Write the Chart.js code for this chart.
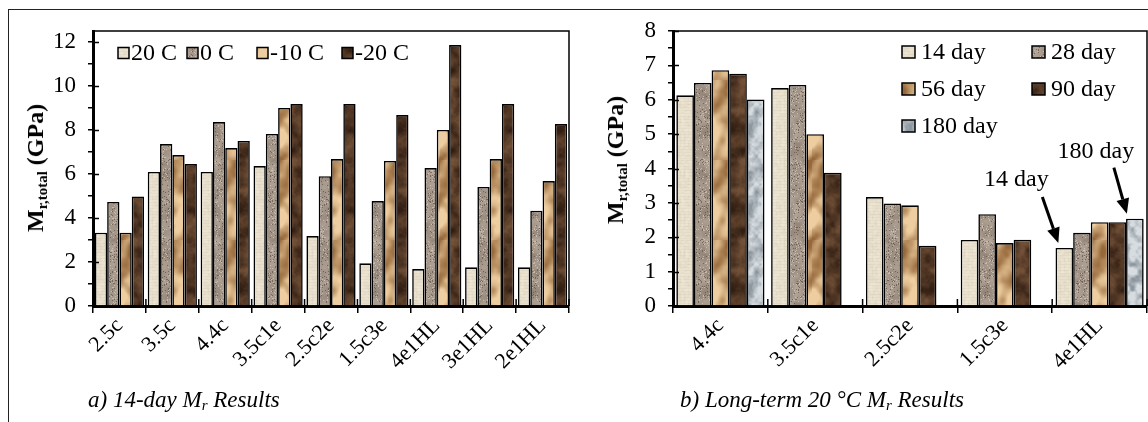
<!DOCTYPE html>
<html>
<head>
<meta charset="utf-8">
<script src="https://cdn.jsdelivr.net/npm/chart.js@4"></script>
<style>
  html, body { margin: 0; padding: 0; background: #fff; }
  #page { position: relative; width: 1148px; height: 422px; overflow: hidden; font-family: "Liberation Serif", "Times New Roman", serif; color: #000; }
  #left-chart { position: absolute; left: 0; top: 0; }
  #right-chart { position: absolute; left: 572px; top: 0; }
  .frame-top { position: absolute; left: 8px; top: 9px; width: 1140px; height: 0; border-top: 1.5px solid #222; }
  .frame-left { position: absolute; left: 8px; top: 9px; width: 0; height: 413px; border-left: 1.5px solid #222; }
  .caption { position: absolute; font-style: italic; font-size: 23px; line-height: 1; white-space: nowrap; }
  .caption sub { font-size: 15px; vertical-align: -3px; line-height: 0; }
  .axis-title { position: absolute; font-weight: bold; font-size: 24px; line-height: 1; white-space: nowrap;
                transform: translate(-50%, -50%) rotate(-90deg); }
  .axis-title sub { font-size: 15px; vertical-align: -4px; line-height: 0; }
</style>
</head>
<body>
<div id="page">
  <div class="frame-top"></div>
  <div class="frame-left"></div>
  <canvas id="left-chart" width="572" height="422"></canvas>
  <canvas id="right-chart" width="576" height="422"></canvas>
  <div class="axis-title" style="left:35px; top:168px;">M<sub>r,total</sub> (GPa)</div>
  <div class="axis-title" style="left:615px; top:160px;">M<sub>r,total</sub> (GPa)</div>
  <div class="caption" style="left:88px; top:388px;">a) 14-day M<sub>r</sub> Results</div>
  <div class="caption" style="left:680px; top:388px;">b) Long-term 20 °C M<sub>r</sub> Results</div>
</div>
<script>
// ---- data ----
const leftCategories = ["2.5c", "3.5c", "4.4c", "3.5c1e", "2.5c2e", "1.5c3e", "4e1HL", "3e1HL", "2e1HL"];
const leftSeries = ["20 C", "0 C", "-10 C", "-20 C"];
const mr20C = [3.33, 6.09, 6.09, 6.36, 3.18, 1.94, 1.68, 1.76, 1.76];
const mr0C = [4.73, 7.36, 8.36, 7.82, 5.90, 4.77, 6.27, 5.41, 4.33];
const mrMinus10C = [3.33, 6.86, 7.18, 9.00, 6.68, 6.59, 8.00, 6.68, 5.68];
const mrMinus20C = [4.98, 6.45, 7.50, 9.18, 9.18, 8.68, 11.86, 9.18, 8.27];

const rightCategories = ["4.4c", "3.5c1e", "2.5c2e", "1.5c3e", "4e1HL"];
const rightSeries = ["14 day", "28 day", "56 day", "90 day", "180 day"];
const day14 = [6.13, 6.34, 3.17, 1.92, 1.69];
const day28 = [6.49, 6.43, 2.98, 2.67, 2.13];
const day56 = [6.86, 5.00, 2.93, 1.83, 2.44];
const day90 = [6.76, 3.88, 1.75, 1.93, 2.44];
const day180 = [6.01, null, null, null, 2.54];

// ---- bar textures ----
function hash(i, j, seed) {
  const s = Math.sin(i * 12.9898 + j * 78.233 + seed * 37.719) * 43758.5453;
  return s - Math.floor(s);
}
const mod = (a, n) => ((a % n) + n) % n;
function vnoise(x, y, cell, w, h, seed) {
  const px = w / cell, py = h / cell;
  const gx = x / cell, gy = y / cell;
  const i = Math.floor(gx), j = Math.floor(gy);
  let fx = gx - i, fy = gy - j;
  fx = fx * fx * (3 - 2 * fx);
  fy = fy * fy * (3 - 2 * fy);
  const a = hash(mod(i, px), mod(j, py), seed);
  const b = hash(mod(i + 1, px), mod(j, py), seed);
  const c = hash(mod(i, px), mod(j + 1, py), seed);
  const d = hash(mod(i + 1, px), mod(j + 1, py), seed);
  return (a * (1 - fx) + b * fx) * (1 - fy) + (c * (1 - fx) + d * fx) * fy;
}
function fbm(x, y, cells, w, h, seed) {
  let sum = 0, amp = 1, tot = 0;
  cells.forEach((cell, k) => {
    sum += amp * vnoise(x, y, cell, w, h, seed + k);
    tot += amp;
    amp *= 0.5;
  });
  return sum / tot;
}
const mix = (a, b, t) => a.map((v, k) => v + (b[k] - v) * t);
const clamp01 = (t) => Math.max(0, Math.min(1, t));

const textures = {
  linen(x, y, w, h) {
    const n = vnoise(x, y, 2, w, h, 1) - 0.5;
    let d = n * 12;
    if (y % 3 === 0) d -= 6;
    if (x % 4 === 0) d -= 3;
    return [233 + d, 225 + d, 206 + d];
  },
  granite(x, y, w, h) {
    const n = fbm(x, y, [8, 4, 2], w, h, 3) - 0.5;
    let c = [165 + n * 55, 150 + n * 55, 138 + n * 55];
    const s = hash(x, y, 9);
    if (s > 0.92) c = mix(c, [90, 76, 66], 0.65);
    else if (s < 0.08) c = mix(c, [220, 212, 202], 0.6);
    return c;
  },
  sand(x, y, w, h) {
    let t = (fbm(x, y, [20, 10, 5], w, h, 5) - 0.5) * 1.9 + 0.55;
    t += 0.22 * Math.sin((x * 2 + y) / 7);
    return mix([150, 104, 58], [238, 206, 160], clamp01(t));
  },
  wood(x, y, w, h) {
    const t = fbm(x, y, [10, 5, 2], w, h, 7);
    return mix([50, 30, 18], [118, 84, 58], clamp01((t - 0.5) * 1.4 + 0.45));
  },
  marble(x, y, w, h) {
    const t = fbm(x, y, [8, 4, 2], w, h, 11);
    const k = clamp01((t - 0.25) / 0.4);
    return mix([140, 150, 158], [214, 220, 224], k);
  }
};

function makeTexture(kind) {
  const w = 40, h = 80;
  const c = document.createElement("canvas");
  c.width = w;
  c.height = h;
  const g = c.getContext("2d");
  const img = g.createImageData(w, h);
  for (let y = 0; y < h; y++) {
    for (let x = 0; x < w; x++) {
      const col = textures[kind](x, y, w, h);
      const p = (y * w + x) * 4;
      img.data[p] = col[0];
      img.data[p + 1] = col[1];
      img.data[p + 2] = col[2];
      img.data[p + 3] = 255;
    }
  }
  g.putImageData(img, 0, 0);
  return g.createPattern(c, "repeat");
}

const fills = {
  linen: makeTexture("linen"),
  granite: makeTexture("granite"),
  sand: makeTexture("sand"),
  wood: makeTexture("wood"),
  marble: makeTexture("marble")
};

// ---- plugins ----
// plot box (top/right), crossing tick marks
const plotFrame = {
  id: "plotFrame",
  afterDraw(chart) {
    const { ctx, chartArea: a, scales } = chart;
    ctx.save();
    ctx.strokeStyle = "#000";
    ctx.lineWidth = 1.5;
    ctx.beginPath();
    ctx.moveTo(a.left, a.top);
    ctx.lineTo(a.right, a.top);
    ctx.lineTo(a.right, a.bottom);
    ctx.stroke();

    // inward part of the major y ticks
    const y = scales.y;
    const major = chart.options.plugins.plotFrame.majorEvery;
    y.ticks.forEach((t) => {
      if (Math.abs(t.value / major - Math.round(t.value / major)) > 1e-6) return;
      const py = Math.round(y.getPixelForValue(t.value)) + 0.5;
      ctx.beginPath();
      ctx.moveTo(a.left, py);
      ctx.lineTo(a.left + 6, py);
      ctx.stroke();
    });

    // inward part of the category ticks
    const n = chart.data.labels.length;
    for (let i = 1; i <= n; i++) {
      const px = a.left + (i * (a.right - a.left)) / n;
      ctx.beginPath();
      ctx.moveTo(px, a.bottom - 7);
      ctx.lineTo(px, a.bottom);
      ctx.stroke();
    }
    ctx.restore();
  }
};

// legend drawn inside the plot area
const innerLegend = {
  id: "innerLegend",
  afterDraw(chart, args, opts) {
    const { ctx, chartArea: a } = chart;
    ctx.save();
    ctx.font = opts.font;
    ctx.textBaseline = "middle";
    chart.data.datasets.forEach((ds, i) => {
      const [ox, oy] = opts.positions[i];
      const x = a.left + ox, y = a.top + oy;
      const [bw, bh] = opts.box;
      ctx.fillStyle = ds.backgroundColor;
      ctx.fillRect(x, y - bh / 2, bw, bh);
      ctx.strokeStyle = "#000";
      ctx.lineWidth = 1.5;
      ctx.strokeRect(x, y - bh / 2, bw, bh);
      ctx.fillStyle = "#000";
      ctx.fillText(ds.label, x + bw + opts.gap, y + 1);
    });
    ctx.restore();
  }
};

// text + arrow pointing at a bar
const barCallouts = {
  id: "barCallouts",
  afterDraw(chart, args, opts) {
    const { ctx } = chart;
    ctx.save();
    ctx.font = opts.font;
    ctx.textAlign = "center";
    ctx.textBaseline = "middle";
    ctx.fillStyle = "#000";
    ctx.strokeStyle = "#000";
    opts.items.forEach((it) => {
      const bar = chart.getDatasetMeta(it.dataset).data[it.index];
      const bx = bar.x, by = bar.y;
      ctx.fillText(it.text, bx + it.label[0], by + it.label[1]);
      const sx = bx + it.from[0], sy = by + it.from[1];
      const tx = bx + it.tip[0], ty = by + it.tip[1];
      const ang = Math.atan2(ty - sy, tx - sx);
      const head = 15, half = 6.5;
      const hx = tx - head * Math.cos(ang), hy = ty - head * Math.sin(ang);
      ctx.lineWidth = 3;
      ctx.beginPath();
      ctx.moveTo(sx, sy);
      ctx.lineTo(hx, hy);
      ctx.stroke();
      ctx.beginPath();
      ctx.moveTo(tx, ty);
      ctx.lineTo(hx + half * Math.sin(ang), hy - half * Math.cos(ang));
      ctx.lineTo(hx - half * Math.sin(ang), hy + half * Math.cos(ang));
      ctx.closePath();
      ctx.fill();
    });
    ctx.restore();
  }
};

// ---- charts ----
const FONT = "Liberation Serif";
Chart.defaults.font.family = FONT;
Chart.defaults.color = "#000";

function barDatasets(names, values, patterns) {
  return names.map((label, i) => ({
    label,
    data: values[i],
    backgroundColor: patterns[i],
    borderColor: "#000",
    borderWidth: 1.6,
    barPercentage: 1,
    categoryPercentage: 0.93
  }));
}

// y ticks every `step` up to `tickMax`, labels only on multiples of `major`
function baseScales(yMax, tickMax, step, major, yWidth) {
  return {
    x: {
      grid: { drawOnChartArea: false, tickLength: 7, color: "#000", lineWidth: 1.5 },
      border: { color: "#000", width: 3 },
      ticks: { font: { size: 22 }, minRotation: 45, maxRotation: 45, padding: 0, autoSkip: false },
      afterFit: (s) => { s.height = 116; }
    },
    y: {
      min: 0,
      max: yMax,
      ticks: {
        font: { size: 23 },
        padding: 12,
        autoSkip: false,
        callback: (v) => (Math.abs(v / major - Math.round(v / major)) < 1e-6 ? v : "")
      },
      afterBuildTicks: (s) => {
        const ticks = [];
        for (let k = 0; k * step <= tickMax + 1e-9; k++) ticks.push({ value: +(k * step).toFixed(3) });
        s.ticks = ticks;
      },
      grid: { drawOnChartArea: false, tickLength: 5, color: "#000", lineWidth: 1.5 },
      border: { color: "#000", width: 3 },
      afterFit: (s) => { s.width = yWidth; }
    }
  };
}

new Chart(document.getElementById("left-chart"), {
  type: "bar",
  data: {
    labels: leftCategories,
    datasets: barDatasets(leftSeries, [mr20C, mr0C, mrMinus10C, mrMinus20C],
      [fills.linen, fills.granite, fills.sand, fills.wood])
  },
  options: {
    responsive: false,
    animation: false,
    layout: { padding: { top: 31, right: 3, left: 0, bottom: 0 } },
    scales: baseScales(12.5, 12, 1, 2, 93),
    plugins: {
      legend: { display: false },
      tooltip: { enabled: false },
      plotFrame: { majorEvery: 2 },
      innerLegend: {
        font: "24px " + FONT,
        box: [11, 11],
        gap: 2,
        positions: [[25, 22], [94, 22], [164, 22], [249, 22]]
      }
    }
  },
  plugins: [plotFrame, innerLegend]
});

new Chart(document.getElementById("right-chart"), {
  type: "bar",
  data: {
    labels: rightCategories,
    datasets: barDatasets(rightSeries, [day14, day28, day56, day90, day180],
      [fills.linen, fills.granite, fills.sand, fills.wood, fills.marble])
  },
  options: {
    responsive: false,
    animation: false,
    layout: { padding: { top: 31, right: 1, left: 0, bottom: 0 } },
    scales: baseScales(8, 8, 0.5, 1, 101),
    plugins: {
      legend: { display: false },
      tooltip: { enabled: false },
      plotFrame: { majorEvery: 1 },
      innerLegend: {
        font: "24px " + FONT,
        box: [13, 12],
        gap: 6,
        positions: [[229, 21], [359, 21], [229, 58], [359, 58], [229, 95]]
      },
      barCallouts: {
        font: "24px " + FONT,
        items: [
          { dataset: 0, index: 4, text: "14 day", label: [-48, -68], from: [-22, -51], tip: [-6, -5] },
          { dataset: 4, index: 4, text: "180 day", label: [-39, -67], from: [-21, -51], tip: [-8, -5] }
        ]
      }
    }
  },
  plugins: [plotFrame, innerLegend, barCallouts]
});
</script>
</body>
</html>
